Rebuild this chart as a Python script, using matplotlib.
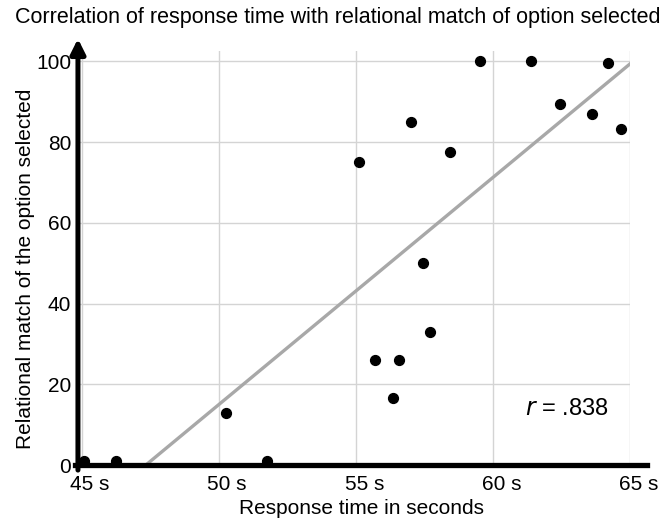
import numpy as np
import matplotlib
matplotlib.use("Agg")
import matplotlib.pyplot as plt
import matplotlib.transforms as mtransforms

plt.rcParams['font.family'] = ['Liberation Sans', 'DejaVu Sans']

# data
resp_time = [45.07, 46.23, 50.24, 51.74, 55.10, 55.67, 56.34, 56.56, 57.00,
             57.42, 57.71, 58.42, 59.50, 61.38, 62.43, 63.61, 64.19, 64.67]
rel_match = [1.0, 1.0, 13.0, 1.0, 75.0, 26.0, 16.5, 26.0, 85.0,
             50.0, 33.0, 77.5, 100.0, 100.0, 89.5, 87.0, 99.5, 83.3]
x_ticks = [45, 50, 55, 60, 65]
x_labels = ["45 s", "50 s", "55 s", "60 s", "65 s"]
y_ticks = [0, 20, 40, 60, 80, 100]
r_text = ".838"

fig = plt.figure(figsize=(6.72, 5.22), dpi=100)
ax = fig.add_axes([0.116, 0.109, 0.822, 0.793])

ax.set_xlim(44.85, 65)
ax.set_ylim(0, 102.5)

# grid
ax.set_xticks(x_ticks)
ax.set_yticks(y_ticks)
ax.grid(True, color='#d4d4d4', lw=1.0)
ax.set_axisbelow(True)
for s in ax.spines.values():
    s.set_visible(False)
ax.tick_params(length=0, labelsize=15)
ax.tick_params(axis='y', pad=5)
ax.tick_params(axis='x', pad=7)
ax.set_xticklabels(x_labels)
off = mtransforms.ScaledTranslation(8 / 100, 0, fig.dpi_scale_trans)
for lab in ax.get_xticklabels():
    lab.set_transform(lab.get_transform() + off)

# trend line (least squares fit), clipped to 0..100
slope, icpt = np.polyfit(resp_time, rel_match, 1)
x0 = (0 - icpt) / slope
x1 = (100 - icpt) / slope
ax.plot([x0, x1], [slope * x0 + icpt, slope * x1 + icpt], color='#a8a8a8', lw=2.4, zorder=2)

ax.scatter(resp_time, rel_match, s=50, color='black', zorder=3, clip_on=False)

# axes lines
ax.axhline(0, xmin=-0.005, xmax=1.03, color='black', lw=3.8, clip_on=False, zorder=4)
ax.annotate('', xy=(0, 1.03), xytext=(0, -0.012), xycoords='axes fraction',
            arrowprops=dict(arrowstyle='-|>', lw=3.6, color='black', mutation_scale=22,
                            shrinkA=0, shrinkB=0), zorder=5)

ax.text(0.885, 0.135, r"$\it{r}$ = " + r_text, transform=ax.transAxes, fontsize=17,
        ha='center', va='center')

ax.set_xlabel("Response time in seconds", fontsize=15, labelpad=4)
ax.xaxis.label.set_x(0.514)
ax.set_ylabel("Relational match of the option selected", fontsize=15)
ax.yaxis.set_label_coords(-0.078, 0.473)
fig.text(0.502, 0.967, "Correlation of response time with relational match of option selected",
         fontsize=15.5, ha='center', va='center')

fig.savefig("out.png", dpi=100)
